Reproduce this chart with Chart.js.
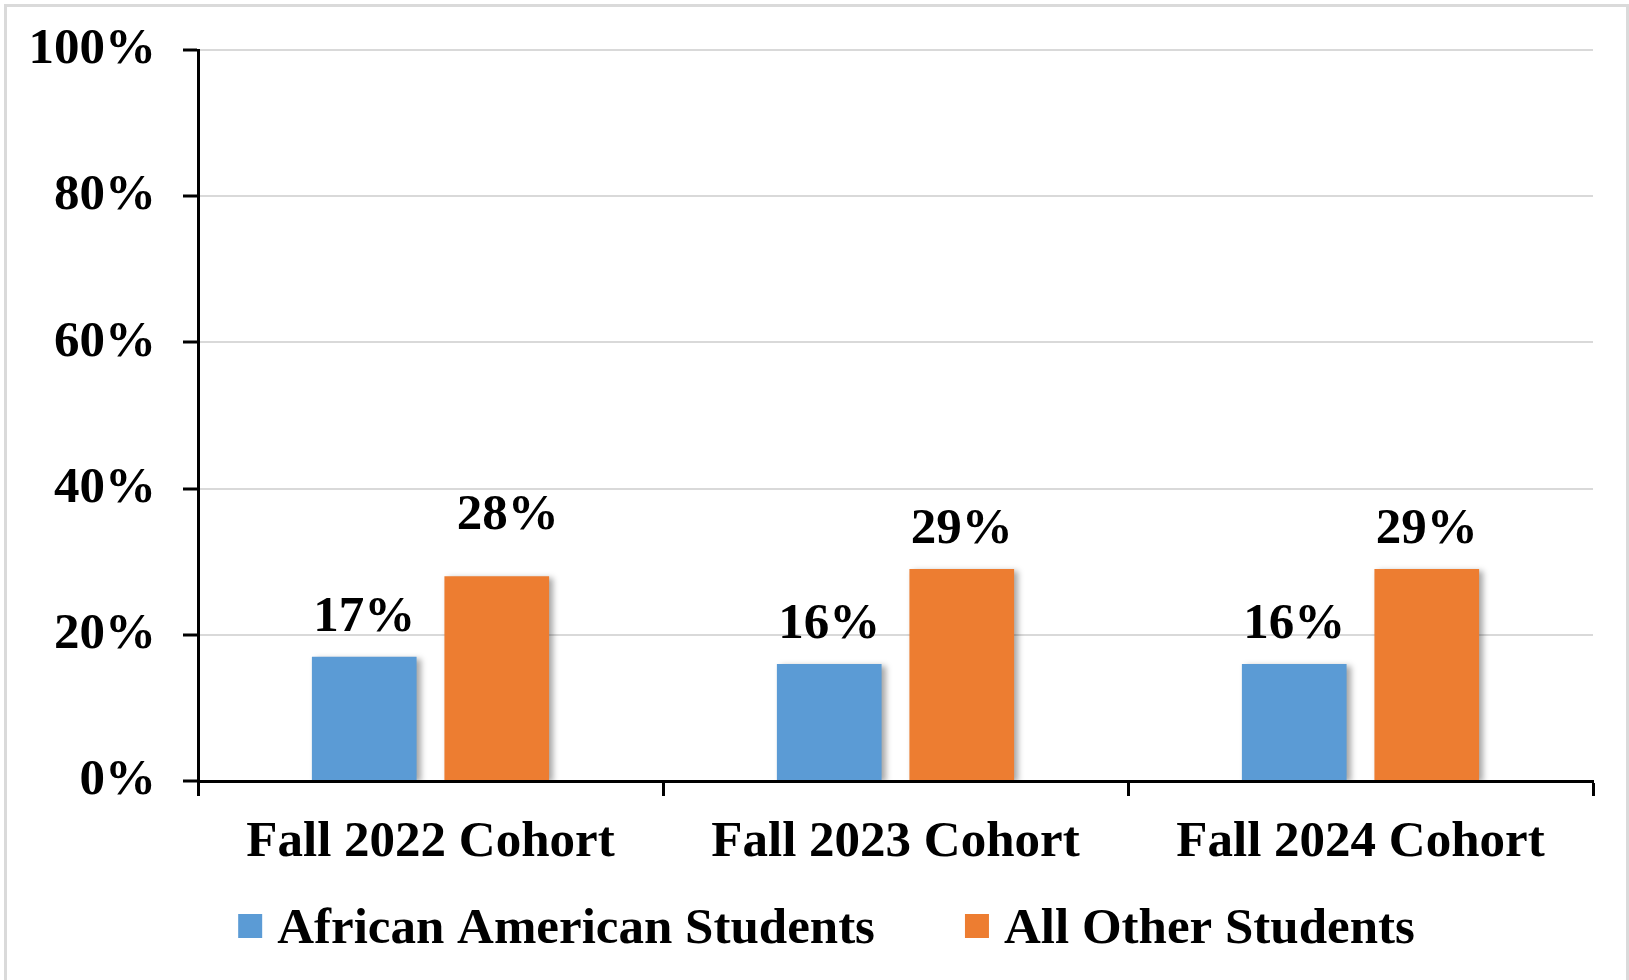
<!DOCTYPE html>
<html><head><meta charset="utf-8">
<script src="https://cdn.jsdelivr.net/npm/chart.js@4.4.1/dist/chart.umd.min.js"></script>
<style>
html,body{margin:0;padding:0;background:#fff;overflow:hidden}
#wrap{position:relative;width:1629px;height:980px}
#frame{position:absolute;left:4px;top:4px;width:1625px;height:980px;border-left:3px solid #dadada;border-top:3px solid #dadada;border-right:3px solid #dadada;box-sizing:border-box;pointer-events:none}
canvas{position:absolute;left:0;top:0}
</style></head>
<body>
<div id="wrap"><canvas id="c" width="1629" height="980"></canvas><div id="frame"></div></div>
<script>
const categories = ['Fall 2022 Cohort', 'Fall 2023 Cohort', 'Fall 2024 Cohort'];
const seriesNames = ['African American Students', 'All Other Students'];
const africanAmerican = [17, 16, 16];
const allOther = [28, 29, 29];
const yTicks = [0, 20, 40, 60, 80, 100];

const FONT = "'Liberation Serif', 'Times New Roman', serif";
const FS = 51;
const colors = ['#5B9BD5', '#ED7D31'];

const barPlugin = {
  id: 'barExtras',
  beforeDatasetsDraw(chart) {
    const ctx = chart.ctx;
    ctx.save();
    ctx.shadowColor = 'rgba(0,0,0,0.35)';
    ctx.shadowBlur = 6;
    ctx.shadowOffsetX = 4;
    ctx.shadowOffsetY = 2;
  },
  afterDatasetsDraw(chart, args, opts) {
    const ctx = chart.ctx;
    ctx.restore();
    ctx.save();
    ctx.font = 'bold ' + FS + 'px ' + FONT;
    ctx.fillStyle = '#000';
    ctx.textAlign = 'center';
    ctx.textBaseline = 'alphabetic';
    chart.data.datasets.forEach((ds, di) => {
      const meta = chart.getDatasetMeta(di);
      meta.data.forEach((bar, i) => {
        const nudge = (opts.nudges && opts.nudges[di + ':' + i]) || [0, 0];
        ctx.fillText(ds.data[i] + '%', bar.x + nudge[0], bar.y - opts.gap + nudge[1]);
      });
    });
    ctx.restore();
  },
  afterDraw(chart, args, opts) {
    const ctx = chart.ctx;
    ctx.save();
    ctx.font = 'bold ' + FS + 'px ' + FONT;
    ctx.textBaseline = 'alphabetic';
    ctx.textAlign = 'left';
    const box = 24, gapText = 15, gapItem = 90;
    const widths = chart.data.datasets.map(ds => box + gapText + ctx.measureText(ds.label).width);
    const total = widths.reduce((a, b) => a + b, 0) + gapItem * (widths.length - 1);
    let x = (chart.width - total) / 2 + opts.legendShift;
    const cy = opts.legendY;
    chart.data.datasets.forEach((ds, i) => {
      ctx.fillStyle = ds.backgroundColor;
      ctx.fillRect(x, cy - box / 2, box, box);
      ctx.fillStyle = '#000';
      ctx.fillText(ds.label, x + box + gapText, cy + 17);
      x += widths[i] + gapItem;
    });
    ctx.restore();
  }
};

new Chart(document.getElementById('c'), {
  type: 'bar',
  data: {
    labels: categories,
    datasets: [
      { label: seriesNames[0], data: africanAmerican, backgroundColor: colors[0] },
      { label: seriesNames[1], data: allOther, backgroundColor: colors[1] }
    ]
  },
  options: {
    responsive: false,
    animation: false,
    devicePixelRatio: 1,
    categoryPercentage: 0.57,
    barPercentage: 0.79,
    layout: { padding: { left: 0, right: 36, top: 50, bottom: 0 } },
    plugins: {
      legend: { display: false },
      tooltip: { enabled: false },
      barExtras: { gap: 26, nudges: { '1:0': [11, -21] }, legendShift: 12, legendY: 926 }
    },
    scales: {
      x: {
        z: 1,
        afterFit(axis) { axis.height = 199; axis.paddingLeft = 0; axis.paddingRight = 0; },
        grid: { display: true, drawOnChartArea: false, drawTicks: true, tickLength: 15, tickColor: '#000', tickWidth: 3, offset: true },
        border: { display: true, color: '#000', width: 3 },
        ticks: { color: '#000', font: { family: FONT, size: FS, weight: 'bold' }, padding: 16, maxRotation: 0 }
      },
      y: {
        min: 0, max: 100,
        afterBuildTicks(axis) { axis.ticks = yTicks.map(v => ({ value: v })); },
        afterFit(axis) { axis.width = 198; axis.paddingTop = 0; axis.paddingBottom = 0; },
        grid: { color: '#d9d9d9', lineWidth: 2, tickColor: '#000', tickWidth: 3, tickLength: 15 },
        border: { display: true, color: '#000', width: 3 },
        ticks: { color: '#000', font: { family: FONT, size: FS, weight: 'bold' }, padding: 27, callback: v => v + '%' }
      }
    }
  },
  plugins: [barPlugin]
});
</script>
</body></html>
